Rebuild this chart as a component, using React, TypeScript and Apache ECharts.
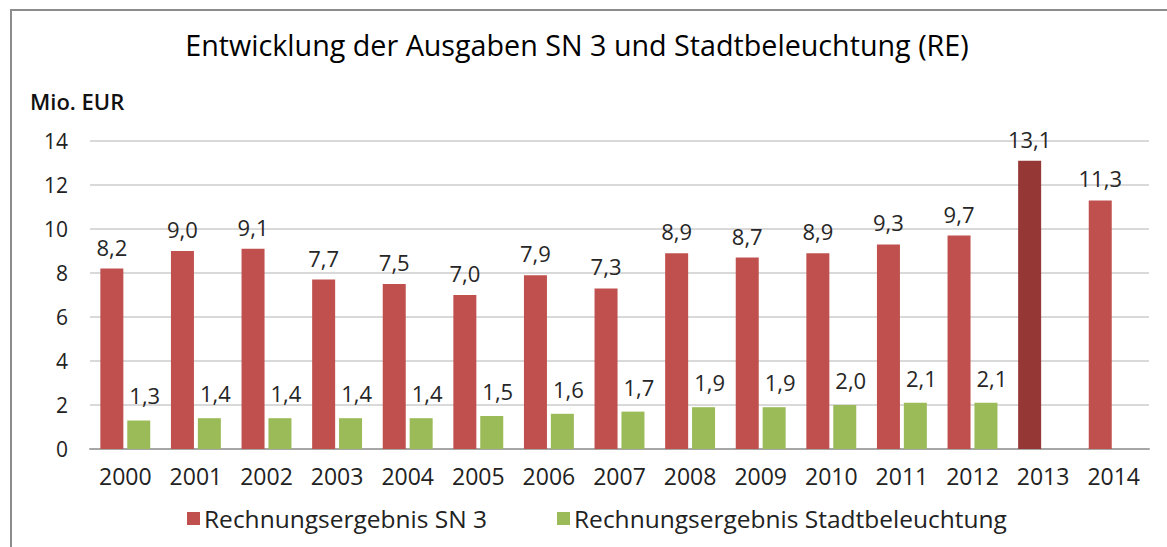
import React, { useEffect, useRef } from "react";
import * as echarts from "echarts";

const years = ["2000","2001","2002","2003","2004","2005","2006","2007","2008","2009","2010","2011","2012","2013","2014"];
const sn3 = [8.2, 9.0, 9.1, 7.7, 7.5, 7.0, 7.9, 7.3, 8.9, 8.7, 8.9, 9.3, 9.7, 13.1, 11.3];
const stadt = [1.3, 1.4, 1.4, 1.4, 1.4, 1.5, 1.6, 1.7, 1.9, 1.9, 2.0, 2.1, 2.1, null, null];
const yTicks = { min: 0, max: 14, interval: 2 };
const titleText = "Entwicklung der Ausgaben SN 3 und Stadtbeleuchtung (RE)";
const unitText = "Mio. EUR";
const seriesNames = ["Rechnungsergebnis SN 3", "Rechnungsergebnis Stadtbeleuchtung"];
const highlightYear = "2013";

const RED = "#C0504D";
const DARK_RED = "#953735";
const GREEN = "#9BBB59";
const FONT = "'Open Sans', 'Noto Sans', sans-serif";

const fmt = (v: number) => v.toFixed(1).replace(".", ",");

export default function App() {
  const ref = useRef<HTMLDivElement>(null);
  useEffect(() => {
    if (!ref.current) return;
    const chart = echarts.init(ref.current, null, { renderer: "svg" });
    const legendText = { fontFamily: FONT, fontSize: 24.5, color: "#222", padding: [0, 0, 0, -1] };
    chart.setOption({
      animation: false,
      backgroundColor: "#ffffff",
      textStyle: { fontFamily: FONT },
      title: {
        text: titleText,
        left: 572,
        textAlign: "center",
        top: 25,
        textStyle: { fontFamily: FONT, fontSize: 28.7, fontWeight: "normal", color: "#000" },
      },
      graphic: [
        {
          type: "rect",
          shape: { x: 11, y: 10, width: 1200, height: 600 },
          style: { fill: "none", stroke: "#8c8c8c", lineWidth: 2 },
          silent: true,
        },
        {
          type: "text",
          x: 30,
          y: 90,
          style: { text: unitText, fontFamily: FONT, fontSize: 22, fontWeight: 600, fill: "#111" },
        },
      ],
      legend: [
        {
          data: [seriesNames[0]],
          left: 182,
          top: 501,
          icon: "rect",
          itemWidth: 13,
          itemHeight: 13,
          textStyle: legendText,
        },
        {
          data: [seriesNames[1]],
          left: 552,
          top: 501,
          icon: "rect",
          itemWidth: 13,
          itemHeight: 13,
          textStyle: legendText,
        },
      ],
      grid: { left: 90, right: 18, top: 141, bottom: 98, containLabel: false },
      xAxis: {
        type: "category",
        data: years,
        axisTick: { show: false },
        axisLine: { lineStyle: { color: "#a6a6a6", width: 2 } },
        axisLabel: { fontFamily: FONT, fontSize: 23, color: "#222", margin: 15 },
      },
      yAxis: {
        type: "value",
        min: yTicks.min,
        max: yTicks.max,
        interval: yTicks.interval,
        axisLine: { show: false },
        axisTick: { show: false },
        splitLine: { lineStyle: { color: "#d9d9d9", width: 2 } },
        axisLabel: { fontFamily: FONT, fontSize: 21, color: "#222", margin: 22 },
      },
      series: [
        {
          name: seriesNames[0],
          type: "bar",
          barWidth: 23,
          barGap: "17%",
          itemStyle: { color: RED },
          data: sn3.map((v, i) =>
            years[i] === highlightYear ? { value: v, itemStyle: { color: DARK_RED } } : v
          ),
          label: {
            show: true,
            position: "top",
            distance: 11,
            offset: [0, 0],
            formatter: (p: any) => fmt(p.value),
            fontFamily: FONT,
            fontSize: 22,
            color: "#262626",
          },
        },
        {
          name: seriesNames[1],
          type: "bar",
          barWidth: 23,
          itemStyle: { color: GREEN },
          data: stadt,
          label: {
            show: true,
            position: "top",
            distance: 14,
            offset: [6, 0],
            formatter: (p: any) => (p.value == null ? "" : fmt(p.value)),
            fontFamily: FONT,
            fontSize: 22,
            color: "#262626",
          },
        },
      ],
    });
    return () => chart.dispose();
  }, []);
  return (
    <div
      ref={ref}
      style={{ position: "fixed", left: 0, top: 0, width: 1167, height: 547 }}
    />
  );
}
